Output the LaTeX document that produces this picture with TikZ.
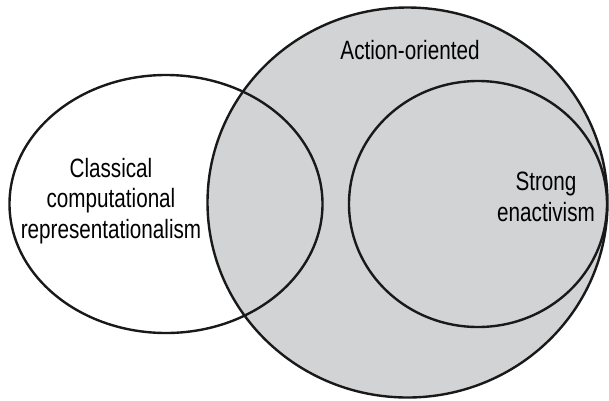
\documentclass[tikz,border=0pt]{standalone}
\usepackage{fontspec}
\setmainfont[FakeStretch=0.78]{Liberation Sans}
\usetikzlibrary{shapes.geometric}
\definecolor{setgrey}{RGB}{209,211,212}

\begin{document}
\begin{tikzpicture}[
					x=1pt,y=-1pt,
					set/.style={ellipse,draw=black!90,line width=2.4pt,inner sep=0pt},
					lbl/.style={align=center,font=\fontsize{26.5}{30.5}\selectfont,inner sep=0pt},
					]
					\useasboundingbox (0,0) rectangle (609,400);
					\node [set,fill=setgrey,minimum width=400,minimum height=390] (action) at (407.5,202.5) {};
					\node [set,minimum width=313,minimum height=258] (classical) at (166,204) {};
					\node [set,minimum width=258,minimum height=246] (strong) at (478,204) {};
					\node [lbl,anchor=base] (actionlbl) at (410,59) {Action-oriented};
					\node [lbl] (classicallbl) at (111,201) {Classical\\ computational\\ representationalism};
					\node [lbl] (stronglbl) at (546,197) {Strong\\ enactivism};
				\end{tikzpicture}
\end{document}
